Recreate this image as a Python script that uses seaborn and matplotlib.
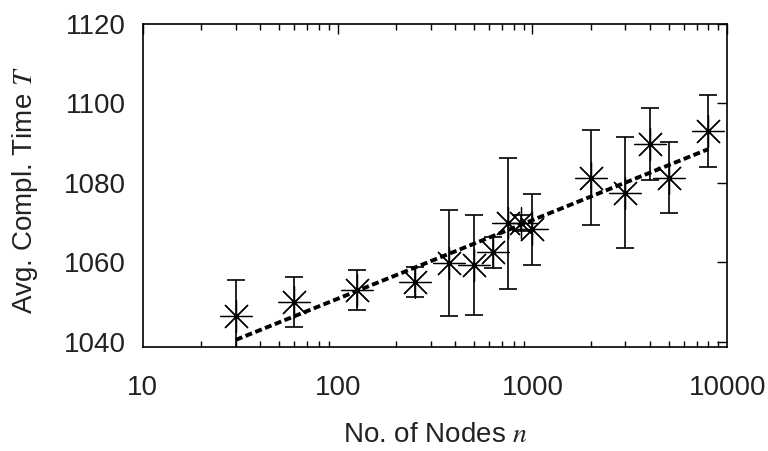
import numpy as np
import matplotlib
matplotlib.use("Agg")
import matplotlib.pyplot as plt
import seaborn as sns

# measured points: number of nodes, mean completion time and error half-width
nodes = [30, 60, 125, 250, 375, 500, 625, 750, 875, 1000, 2000, 3000, 4000, 5000, 8000]
avg_time = [1046.5, 1050.0, 1053.0, 1055.0, 1059.8, 1059.3, 1062.5, 1069.8, 1069.8,
            1068.3, 1081.3, 1077.5, 1089.8, 1081.3, 1093.0]
err = [9.0, 6.3, 5.0, 3.8, 13.3, 12.6, 4.0, 16.4, 2.0, 9.0, 12.0, 14.0, 9.0, 9.0, 9.0]

# fitted trend line (end points)
fit_nodes = [30, 8000]
fit_time = [1040.5, 1088.5]

sns.set_style("white")
plt.rcParams['font.family'] = ['Liberation Sans', 'DejaVu Sans']
plt.rcParams['mathtext.fontset'] = 'stix'

fig = plt.figure(figsize=(7.68, 4.51), dpi=100)
ax = fig.add_axes([0.186, 0.231, 0.761, 0.716])

ax.errorbar(nodes, avg_time, yerr=err, fmt='none', ecolor='black',
            elinewidth=1.2, capsize=6.5, capthick=1.2, zorder=2)
sns.scatterplot(x=nodes, y=avg_time, marker=(8, 2, 0), s=520, color='black',
                linewidth=0.9, ax=ax, zorder=3, legend=False)
sns.lineplot(x=fit_nodes, y=fit_time, color='black', linewidth=2.8,
             dashes=False, ax=ax, zorder=4)
ax.lines[-1].set_dashes((1.8, 0.9))

ax.set_xscale('log')
ax.set_xlim(10, 10000)
ax.set_ylim(1038.75, 1120)
ax.set_xticks([10, 100, 1000, 10000])
ax.set_xticklabels(['10', '100', '1000', '10000'])
ax.set_yticks([1040, 1060, 1080, 1100, 1120])

for s in ax.spines.values():
    s.set_color('black')
    s.set_linewidth(1.2)

ax.tick_params(which='both', direction='in', top=True, right=True, colors='black',
               labelcolor='#222222', labelsize=20)
ax.tick_params(which='major', length=7, width=1.0)
ax.tick_params(which='minor', length=4.5, width=1.0, bottom=True, top=True)
ax.tick_params(axis='x', pad=20)
ax.tick_params(axis='y', pad=12)

ax.set_xlabel('No. of Nodes $n$', fontsize=20, color='#222222')
ax.set_ylabel('Avg. Compl. Time $T$', fontsize=20, color='#222222')
ax.xaxis.set_label_coords(0.5, -0.232)
ax.yaxis.set_label_coords(-0.176, 0.486)

fig.savefig('out.png', dpi=100, facecolor='white')
